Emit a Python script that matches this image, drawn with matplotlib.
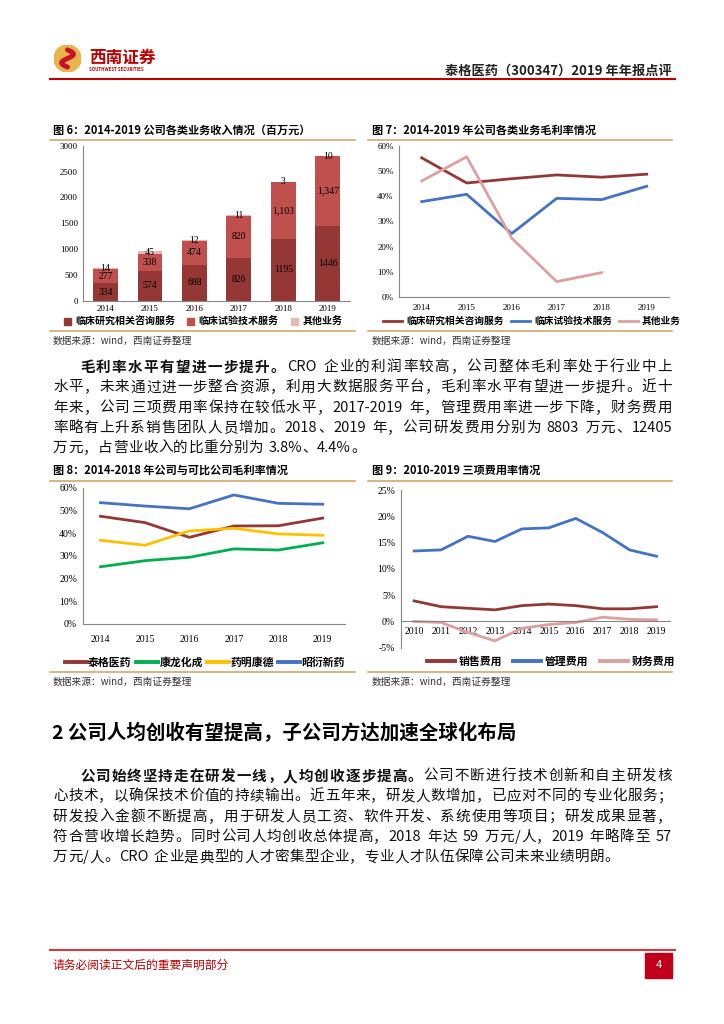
import numpy as np
import matplotlib
matplotlib.use('Agg')
import matplotlib.pyplot as plt
from matplotlib.patches import Patch, Rectangle, Circle
from matplotlib.lines import Line2D

plt.rcParams['font.family'] = ['Noto Sans CJK SC', 'DejaVu Sans']
plt.rcParams['axes.unicode_minus'] = False

W, H = 724, 1024
def fx(x): return x / W
def fy(y): return 1 - y / H

# 图6 各类业务收入（百万元）
years6 = ['2014', '2015', '2016', '2017', '2018', '2019']
consult = [334, 574, 688, 826, 1195, 1446]
trial = [277, 338, 474, 820, 1103, 1347]
other = [14, 45, 12, 11, 3, 10]
names6 = ['临床研究相关咨询服务', '临床试验技术服务', '其他业务']

# 图7 各类业务毛利率 (%)
gm_consult = [55.3, 45.3, 47.0, 48.5, 47.6, 48.8]
gm_trial = [37.9, 40.8, 25.2, 39.2, 38.7, 44.0]
gm_other = [46.1, 55.7, 23.4, 6.1, 9.7, np.nan]

# 图8 可比公司毛利率 (%)
peers = ['泰格医药', '康龙化成', '药明康德', '昭衍新药']
gm_tigermed = [47.4, 44.6, 38.1, 43.1, 43.2, 46.6]
gm_kanglong = [25.1, 27.8, 29.3, 33.0, 32.5, 35.7]
gm_wuxi = [36.8, 34.6, 40.9, 42.1, 39.6, 39.0]
gm_zhaoyan = [53.4, 51.9, 50.7, 56.8, 53.1, 52.7]

# 图9 三项费用率 (%)
years9 = [str(y) for y in range(2010, 2020)]
sell_rate = [3.9, 2.8, 2.5, 2.2, 3.0, 3.3, 3.0, 2.4, 2.4, 2.8]
admin_rate = [13.4, 13.6, 16.2, 15.2, 17.6, 17.8, 19.6, 16.9, 13.6, 12.4]
fin_rate = [0.0, -0.2, -2.1, -3.7, -1.3, -0.6, -0.2, 0.8, 0.4, 0.3]
names9 = ['销售费用', '管理费用', '财务费用']

RED = '#953735'
MID = '#C0504D'
PINK = '#E6B9B8'
LPINK = '#DDA09F'
BLUE = '#4472C4'
GREEN = '#00B050'
YELLOW = '#FFC000'
GOLD = '#D2A86A'
GREY = '#868686'
SERIF = ['Liberation Serif', 'DejaVu Serif']

fig = plt.figure(figsize=(7.24, 10.24), dpi=100)
renderer = fig.canvas.get_renderer()


def hline(y, x0, x1, color, lw=1.0):
    fig.add_artist(Line2D([fx(x0), fx(x1)], [fy(y), fy(y)], color=color, lw=lw))


def style_axes(ax, size=7, xpad=4):
    for s in ['top', 'right']:
        ax.spines[s].set_visible(False)
    for s in ['left', 'bottom']:
        ax.spines[s].set_color(GREY)
        ax.spines[s].set_linewidth(0.8)
    ax.tick_params(length=0, labelsize=size, pad=4)
    ax.tick_params(axis='x', pad=xpad)
    for lab in ax.get_xticklabels() + ax.get_yticklabels():
        lab.set_family(SERIF)


def tokens_of(parts):
    toks = []
    for txt, bold in parts:
        buf = ''
        for ch in txt:
            if ch == ' ':
                if buf:
                    toks.append((buf, bold)); buf = ''
                toks.append((' ', bold))
            elif ord(ch) < 128:
                buf += ch
            else:
                if buf:
                    toks.append((buf, bold)); buf = ''
                toks.append((ch, bold))
        if buf:
            toks.append((buf, bold))
    return toks


def text_line(y, x0, x1, parts, size=10.5, justify=True):
    toks = tokens_of(parts)
    items = []
    for tok, bold in toks:
        if tok == ' ':
            items.append((None, size * 0.3 * 100 / 72))
            continue
        t = fig.text(0, fy(y), tok, fontsize=size, va='center', ha='left',
                     fontweight='bold' if bold else 'normal', color='#111111')
        items.append((t, t.get_window_extent(renderer).width))
    total = sum(w for _, w in items)
    gap = (x1 - x0 - total) / (len(items) - 1) if justify and len(items) > 1 else 0.4
    x = x0
    for t, w in items:
        if t is not None:
            t.set_x(fx(x))
        x += w + gap


# ---- 页眉
lax = fig.add_axes([fx(54), fy(72), 27 / W, 27 / H])
lax.set_xlim(0, 1); lax.set_ylim(0, 1); lax.axis('off')
lax.add_patch(Circle((0.5, 0.5), 0.5, color='#E8B54D'))
tt = np.linspace(0, 2 * np.pi, 60)
lax.plot(0.5 - 0.22 * np.sin(tt), 0.18 + 0.64 * tt / (2 * np.pi), color='#C8102E', lw=3.5,
         solid_capstyle='round')
fig.text(fx(89), fy(58), '西南证券', fontsize=12, fontweight='bold', color='#C00000', va='center')
fig.text(fx(89), fy(69.5), 'SOUTHWEST SECURITIES', fontsize=3.2, fontweight='bold',
         color='#C00000', va='center')
fig.text(fx(672), fy(71), '泰格医药（300347）2019 年年报点评', fontsize=9.5, fontweight='bold',
         ha='right', va='center', color='#222222')
hline(79, 50, 675, '#C00000', 1.5)

# ---- 图6
fig.text(fx(53), fy(130), '图 6：2014-2019 公司各类业务收入情况（百万元）', fontsize=8,
         fontweight='bold', va='center')
hline(140, 50, 355, GOLD, 1.2)
ax6 = fig.add_axes([fx(83.3), fy(300.7), (350 - 83.3) / W, 155 / H])
x6 = np.arange(len(years6))
b1 = np.array(consult); b2 = np.array(trial); b3 = np.array(other)
ax6.bar(x6, b1, 0.56, color=RED)
ax6.bar(x6, b2, 0.56, bottom=b1, color=MID)
ax6.bar(x6, b3, 0.56, bottom=b1 + b2, color=PINK)
for i in range(len(x6)):
    ax6.text(x6[i], b1[i] / 2, f'{b1[i]}', ha='center', va='center', fontsize=7, family=SERIF)
    ax6.text(x6[i], b1[i] + b2[i] / 2, f'{b2[i]:,}', ha='center', va='center', fontsize=7,
             family=SERIF)
    ax6.text(x6[i], b1[i] + b2[i] + b3[i] / 2, f'{b3[i]}', ha='center', va='center',
             fontsize=7, family=SERIF)
ax6.set_xlim(-0.5, 5.5)
ax6.set_ylim(0, 3000)
ax6.set_yticks(range(0, 3001, 500))
ax6.set_xticks(x6)
ax6.set_xticklabels(years6)
style_axes(ax6, 6.5, xpad=3)
fig.legend([Patch(color=c) for c in [RED, MID, PINK]], names6, loc='center',
           bbox_to_anchor=(fx(203), fy(321.5)), ncol=3, frameon=False,
           prop={'weight': 'bold', 'size': 7.2}, handlelength=0.7, handleheight=0.7,
           handletextpad=0.45, columnspacing=1.2)
hline(331, 50, 355, GOLD, 1.2)
fig.text(fx(53), fy(341), '数据来源：wind，西南证券整理', fontsize=7, va='center', color='#333333')

# ---- 图7
fig.text(fx(372), fy(130), '图 7：2014-2019 年公司各类业务毛利率情况', fontsize=8,
         fontweight='bold', va='center')
hline(140, 368, 672, GOLD, 1.2)
ax7 = fig.add_axes([fx(399.2), fy(297), 270 / W, 151 / H])
ax7.plot(x6, gm_consult, color=RED, lw=2)
ax7.plot(x6, gm_trial, color=BLUE, lw=2)
ax7.plot(x6, gm_other, color=LPINK, lw=2)
ax7.set_xlim(-0.5, 5.5)
ax7.set_ylim(0, 60)
ax7.set_yticks(range(0, 61, 10))
ax7.set_yticklabels([f'{v}%' for v in range(0, 61, 10)])
ax7.set_xticks(x6)
ax7.set_xticklabels(years6)
style_axes(ax7, 6.5, xpad=5)
fig.legend([Line2D([], [], color=c, lw=2) for c in [RED, BLUE, LPINK]], names6, loc='center',
           bbox_to_anchor=(fx(532), fy(321)), ncol=3, frameon=False,
           prop={'weight': 'bold', 'size': 7}, handlelength=2.0, handletextpad=0.4,
           columnspacing=0.7)
hline(331, 368, 672, GOLD, 1.2)
fig.text(fx(372), fy(341), '数据来源：wind，西南证券整理', fontsize=7, va='center', color='#333333')

# ---- 正文1
para1 = [
    [('毛利率水平有望进一步提升。', True), ('CRO 企业的利润率较高，公司整体毛利率处于行业中上', False)],
    [('水平，未来通过进一步整合资源，利用大数据服务平台，毛利率水平有望进一步提升。近十', False)],
    [('年来，公司三项费用率保持在较低水平，2017-2019 年，管理费用率进一步下降，财务费用', False)],
    [('率略有上升系销售团队人员增加。2018、2019 年，公司研发费用分别为 8803 万元、12405', False)],
    [('万元，占营业收入的比重分别为 3.8%、4.4%。', False)],
]
for k, parts in enumerate(para1):
    text_line(367 + k * 20.3, 80 if k == 0 else 53, 672, parts, justify=k < len(para1) - 1)

# ---- 图8
fig.text(fx(53), fy(470), '图 8：2014-2018 年公司与可比公司毛利率情况', fontsize=8,
         fontweight='bold', va='center')
hline(480.7, 50, 355, GOLD, 1.2)
ax8 = fig.add_axes([fx(82.7), fy(623.7), (345 - 82.7) / W, 136 / H])
for vals, c in zip([gm_tigermed, gm_kanglong, gm_wuxi, gm_zhaoyan], [RED, GREEN, YELLOW, BLUE]):
    ax8.plot(x6, vals, color=c, lw=2)
ax8.set_xlim(-0.4, 5.5)
ax8.set_ylim(0, 60)
ax8.set_yticks(range(0, 61, 10))
ax8.set_yticklabels([f'{v}%' for v in range(0, 61, 10)])
ax8.set_xticks(x6)
ax8.set_xticklabels(years6)
style_axes(ax8, 7, xpad=8)
fig.legend([Line2D([], [], color=c, lw=2.8) for c in [RED, GREEN, YELLOW, BLUE]], peers,
           loc='center', bbox_to_anchor=(fx(205), fy(662.7)), ncol=4, frameon=False,
           prop={'weight': 'bold', 'size': 7.8}, handlelength=2.0, handletextpad=0.15,
           columnspacing=0.4)
hline(671.7, 50, 355, GOLD, 1.2)
fig.text(fx(53), fy(682), '数据来源：wind，西南证券整理', fontsize=7, va='center', color='#333333')

# ---- 图9
fig.text(fx(372), fy(470), '图 9：2010-2019 三项费用率情况', fontsize=8,
         fontweight='bold', va='center')
hline(480.7, 368, 672, GOLD, 1.2)
ax9 = fig.add_axes([fx(400.7), fy(647.7), (670 - 400.7) / W, 157.7 / H])
x9 = np.arange(len(years9))
ax9.plot(x9, sell_rate, color=RED, lw=2)
ax9.plot(x9, admin_rate, color=BLUE, lw=2)
ax9.plot(x9, fin_rate, color=LPINK, lw=2)
ax9.set_xlim(-0.5, 9.5)
ax9.set_ylim(-5, 25)
ax9.set_yticks(range(-5, 26, 5))
ax9.set_yticklabels([f'{v}%' for v in range(-5, 26, 5)])
ax9.set_xticks(x9)
ax9.set_xticklabels(years9)
ax9.spines['bottom'].set_position(('data', 0))
style_axes(ax9, 7)
fig.legend([Line2D([], [], color=c, lw=2.8) for c in [RED, BLUE, LPINK]], names9, loc='center',
           bbox_to_anchor=(fx(551), fy(662)), ncol=3, frameon=False,
           prop={'weight': 'bold', 'size': 7.8}, handlelength=2.6, handletextpad=0.35,
           columnspacing=1.0)
hline(671.7, 368, 672, GOLD, 1.2)
fig.text(fx(372), fy(682), '数据来源：wind，西南证券整理', fontsize=7, va='center', color='#333333')

# ---- 第2节
fig.text(fx(52), fy(733), '2 公司人均创收有望提高，子公司方达加速全球化布局', fontsize=14,
         fontweight='bold', va='center')
para2 = [
    [('公司始终坚持走在研发一线，人均创收逐步提高。', True), ('公司不断进行技术创新和自主研发核', False)],
    [('心技术，以确保技术价值的持续输出。近五年来，研发人数增加，已应对不同的专业化服务；', False)],
    [('研发投入金额不断提高，用于研发人员工资、软件开发、系统使用等项目；研发成果显著，', False)],
    [('符合营收增长趋势。同时公司人均创收总体提高，2018 年达 59 万元/人，2019 年略降至 57', False)],
    [('万元/人。CRO 企业是典型的人才密集型企业，专业人才队伍保障公司未来业绩明朗。', False)],
]
for k, parts in enumerate(para2):
    text_line(776 + k * 20.3, 80 if k == 0 else 53, 672, parts, justify=k < len(para2) - 1)

# ---- 页脚
hline(950, 50, 675, '#D23A3F', 1.5)
fig.text(fx(53), fy(965), '请务必阅读正文后的重要声明部分', fontsize=8.5, color='#C00000', va='center')
fig.add_artist(Rectangle((fx(645), fy(978)), 27 / W, 25 / H, color='#C0001A'))
fig.text(fx(658.5), fy(965.5), '4', fontsize=8, color='white', ha='center', va='center')

fig.savefig('out.png', dpi=100)
